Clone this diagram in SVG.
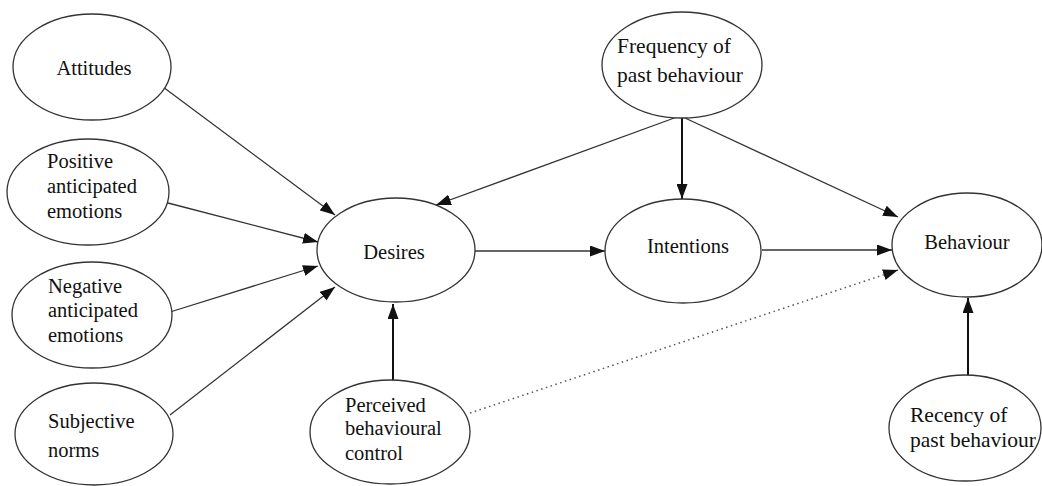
<svg xmlns="http://www.w3.org/2000/svg" width="1042" height="486" viewBox="0 0 1042 486">
<style>
.n ellipse{fill:#fff;stroke:#333;stroke-width:1.3}
.n text{font-family:'Liberation Serif','DejaVu Serif',serif;font-size:20.5px;fill:#111}
#connectors line{stroke:#333;stroke-width:1.3;fill:none}
#connectors line.thick{stroke:#111;stroke-width:2}
#connectors line.dot{stroke:#555;stroke-width:1.5;stroke-dasharray:1.5 3.5}
</style>
<defs>
<marker id="ah" markerUnits="userSpaceOnUse" markerWidth="15" markerHeight="11" refX="15" refY="5.5" orient="auto">
<path d="M0,0 L15,5.5 L0,11 z" fill="#111"/>
</marker>
</defs>
<rect width="1042" height="486" fill="#fff"/>
<g id="connectors">
<line x1="163" y1="87" x2="335" y2="215" marker-end="url(#ah)"/>
<line x1="168" y1="203" x2="318" y2="242" marker-end="url(#ah)"/>
<line x1="170" y1="312" x2="318" y2="266" marker-end="url(#ah)"/>
<line x1="170" y1="415" x2="335" y2="287" marker-end="url(#ah)"/>
<line class="thick" x1="393" y1="382" x2="393" y2="304" marker-end="url(#ah)"/>
<line x1="677" y1="117" x2="436" y2="205" marker-end="url(#ah)"/>
<line class="thick" x1="682" y1="117" x2="682" y2="199" marker-end="url(#ah)"/>
<line x1="685" y1="118" x2="898" y2="217" marker-end="url(#ah)"/>
<line x1="475" y1="251" x2="605" y2="251" marker-end="url(#ah)"/>
<line x1="762" y1="250" x2="892" y2="250" marker-end="url(#ah)"/>
<line class="dot" x1="470" y1="413" x2="898" y2="270" marker-end="url(#ah)"/>
<line class="thick" x1="968" y1="377" x2="968" y2="298" marker-end="url(#ah)"/>
</g>
<g id="attitudes" class="n">
<ellipse cx="92" cy="67" rx="79" ry="53"/>
<text x="94" y="75" text-anchor="middle">Attitudes</text>
</g>
<g id="positive" class="n">
<ellipse cx="88" cy="192" rx="81" ry="53"/>
<text x="47" y="168">Positive</text>
<text x="47" y="193">anticipated</text>
<text x="47" y="218">emotions</text>
</g>
<g id="negative" class="n">
<ellipse cx="92" cy="315" rx="80" ry="53"/>
<text x="48" y="293">Negative</text>
<text x="48" y="317">anticipated</text>
<text x="48" y="342">emotions</text>
</g>
<g id="subjective" class="n">
<ellipse cx="94" cy="434" rx="79" ry="51"/>
<text x="48" y="428">Subjective</text>
<text x="48" y="457">norms</text>
</g>
<g id="desires" class="n">
<ellipse cx="396" cy="250" rx="79" ry="52"/>
<text x="394" y="259" text-anchor="middle">Desires</text>
</g>
<g id="perceived" class="n">
<ellipse cx="390" cy="432" rx="80" ry="52"/>
<text x="345" y="412">Perceived</text>
<text x="345" y="435">behavioural</text>
<text x="345" y="460">control</text>
</g>
<g id="frequency" class="n">
<ellipse cx="682" cy="65" rx="80" ry="53"/>
<text x="617" y="53" style="font-size:21.5px">Frequency of</text>
<text x="617" y="82" style="font-size:21.5px">past behaviour</text>
</g>
<g id="intentions" class="n">
<ellipse cx="683" cy="251" rx="78" ry="52"/>
<text x="688" y="253" text-anchor="middle">Intentions</text>
</g>
<g id="behaviour" class="n">
<ellipse cx="967" cy="245" rx="75" ry="52"/>
<text x="967" y="249" text-anchor="middle">Behaviour</text>
</g>
<g id="recency" class="n">
<ellipse cx="965" cy="428" rx="76" ry="53"/>
<text x="910" y="422" style="font-size:21.5px">Recency of</text>
<text x="910" y="447" style="font-size:21.5px">past behaviour</text>
</g>
</svg>
